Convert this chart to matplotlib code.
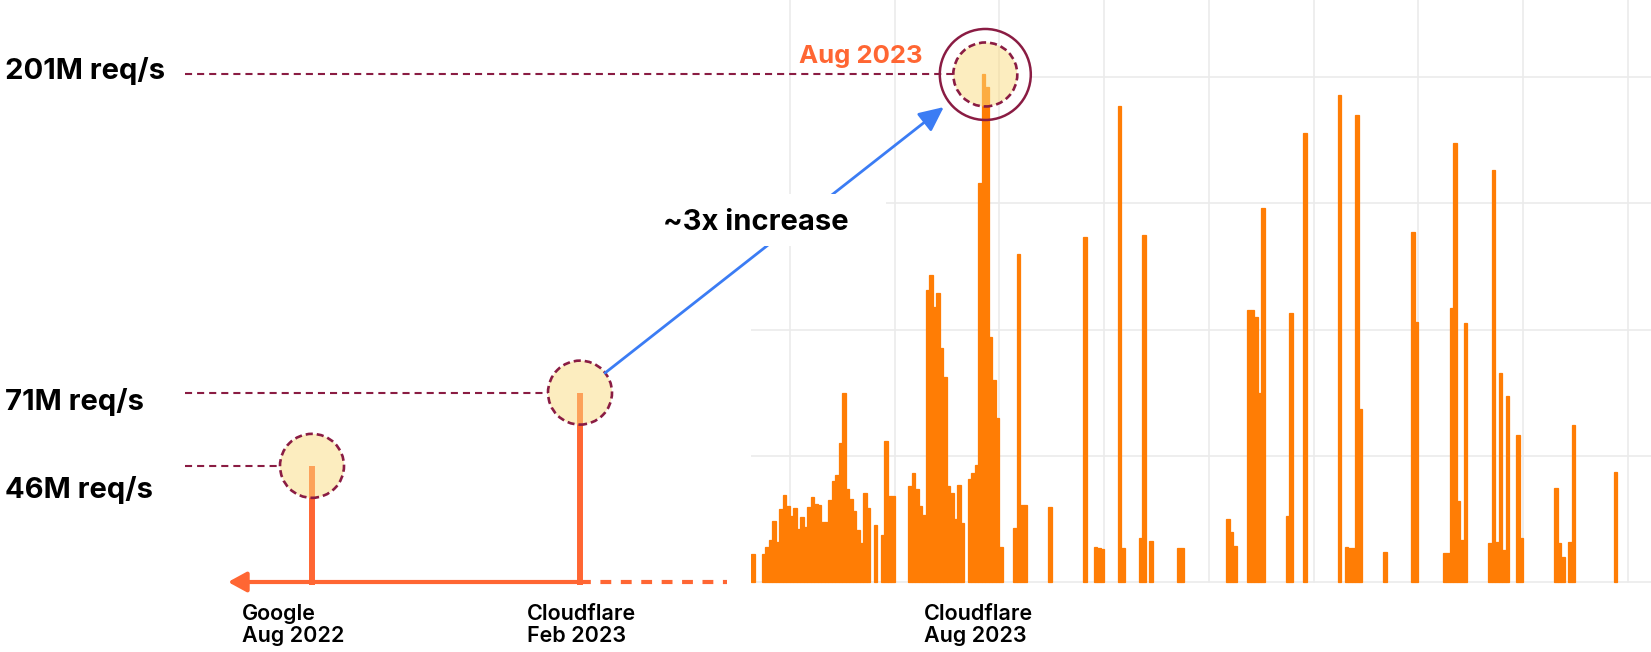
import numpy as np
import matplotlib.pyplot as plt
from matplotlib.patches import Ellipse, Rectangle
from matplotlib.colors import to_rgba

# hourly peak request rate of the Aug 2023 attack campaign (M req/s)
hours = [19, 22, 23, 24, 25, 26, 27, 28, 29, 30, 31, 32, 33, 34, 35, 36, 37, 38, 39, 40,
         41, 42, 43, 44, 45, 46, 47, 48, 49, 50, 51, 52, 54, 56, 57, 58, 59,
         64, 65, 66, 67, 68, 69, 70, 71, 72, 73, 74, 75, 76, 77, 78, 79,
         81, 82, 83, 84, 85, 86, 87, 88, 89, 90, 94, 95, 96, 97, 104,
         114, 117, 118, 119, 124, 125, 130, 131, 133, 141, 142,
         155, 156, 157, 161, 162, 163, 164, 165, 172, 173, 177,
         187, 189, 190, 191, 192, 193, 200, 208, 209,
         217, 218, 219, 220, 221, 222, 223, 230, 231, 232, 233, 234, 235,
         238, 239, 249, 250, 251, 253, 254, 266]
rates = [11.1, 11.1, 14.0, 16.5, 24.2, 16.0, 28.8, 34.5, 30.0, 26.2, 29.2, 20.9, 25.9, 21.9, 29.8, 33.8, 31.0, 30.5, 23.9, 23.9,
         32.5, 40.0, 42.4, 54.9, 75.0, 36.7, 33.0, 28.0, 20.6, 15.6, 35.1, 29.2, 22.6, 18.6, 56.0, 34.1, 34.1,
         38.0, 43.3, 37.0, 30.0, 26.5, 115.6, 121.5, 109.0, 114.5, 92.5, 81.3, 38.0, 35.1, 25.0, 38.4, 23.2,
         40.7, 43.0, 46.3, 158.0, 201.0, 196.0, 97.2, 80.0, 64.8, 14.0, 21.4, 130.0, 30.5, 30.5, 29.7,
         136.5, 14.0, 13.5, 13.0, 188.5, 13.5, 17.4, 137.4, 16.3, 13.3, 13.5,
         24.8, 20.0, 14.2, 107.7, 107.7, 105.0, 75.0, 148.0, 26.0, 106.4, 177.7,
         192.9, 13.8, 13.5, 13.5, 185.0, 68.4, 12.0, 138.7, 103.0,
         11.4, 11.4, 108.4, 174.0, 32.0, 16.6, 102.4, 15.3, 163.2, 16.0, 82.9, 12.7, 73.7,
         58.2, 17.3, 37.1, 15.6, 10.0, 16.0, 62.2, 43.7]

# earlier records, stem heights as drawn (M req/s)
prior_peaks = [46, 75]
prior_x = [312, 580]
record_labels = ['201M req/s', '71M req/s', '46M req/s']
event_labels = ['Google\nAug 2022', 'Cloudflare\nFeb 2023', 'Cloudflare\nAug 2023']

W, H = 1651, 652
BASE_PX = 582
PX_PER_M = 2.525
SLOT_PX = 104.75 / 30

BAR = '#ff7d05'
STEM = '#ff6633'
MAROON = '#8a1c43'
BLUE = '#3b7cf4'
FILL = '#fbdc80'
GRID = '#ebebeb'


def m(ypx):
    # pixel row -> M req/s on the shared vertical scale
    return (BASE_PX - ypx) / PX_PER_M


def main():
    plt.rcParams['font.family'] = ['Inter', 'DejaVu Sans']
    fig = plt.figure(figsize=(W / 100, H / 100), dpi=100)
    ylim = (m(H), m(0))

    # bar chart on the right
    axb = fig.add_axes([751 / W, 0, 900 / W, 1])
    axb.set_xlim(18.9, 18.9 + 900 / SLOT_PX)
    axb.set_ylim(*ylim)
    axb.axis('off')
    for x in range(30, 271, 30):
        axb.plot([x, x], [0, ylim[1]], color=GRID, lw=1.2, zorder=0)
    for lvl in [0, 50, 100, 150]:
        axb.axhline(lvl, color=GRID, lw=1.2, zorder=0)
    axb.axhline(200, xmin=(1031 - 751) / 900, color=GRID, lw=1.2, zorder=0)
    axb.bar(hours, rates, width=1, align='edge', color=BAR, edgecolor=BAR, lw=0.9, zorder=2)

    # overlay for the annotations
    ax = fig.add_axes([0, 0, 1, 1])
    ax.set_xlim(0, W)
    ax.set_ylim(*ylim)
    ax.axis('off')
    ax.patch.set_alpha(0)

    peak = int(np.argmax(rates))
    aug = ax.transData.inverted().transform(
        axb.transData.transform((hours[peak] + 1, rates[peak])))
    rh = 1 / PX_PER_M

    # timeline with stems
    ax.annotate('', xy=(228, 0), xytext=(prior_x[1], 0),
                arrowprops=dict(arrowstyle='-|>,head_length=0.55,head_width=0.3',
                                color=STEM, lw=3, mutation_scale=20, shrinkA=0, shrinkB=0))
    ax.plot([prior_x[1], 727], [0, 0], color=STEM, lw=3, dashes=(2.6, 2.3))
    for x, v in zip(prior_x, prior_peaks):
        ax.plot([x, x], [-1, v], color=STEM, lw=4.3, solid_capstyle='butt', zorder=3)

    # dashed level guides
    ax.plot([185, prior_x[0] - 32], [prior_peaks[0]] * 2, color=MAROON, lw=1.5, dashes=(3.4, 2.4))
    ax.plot([185, prior_x[1] - 32], [prior_peaks[1]] * 2, color=MAROON, lw=1.5, dashes=(3.4, 2.4))
    ax.plot([185, aug[0] - 32], [aug[1]] * 2, color=MAROON, lw=1.5, dashes=(3.4, 2.4))

    # highlight circles
    for x, v in zip(prior_x, prior_peaks):
        ax.add_patch(Ellipse((x, v), 64, 64 * rh, facecolor=to_rgba(FILL, 0.5),
                             edgecolor=MAROON, lw=1.9, ls=(0, (2.7, 1.5)), zorder=4))
    ax.add_patch(Ellipse(aug, 64, 64 * rh, facecolor=to_rgba(FILL, 0.5),
                         edgecolor=MAROON, lw=1.9, ls=(0, (2.7, 1.5)), zorder=4))
    ax.add_patch(Ellipse(aug, 91, 91 * rh, facecolor='none', edgecolor=MAROON, lw=1.8, zorder=4))

    # ~3x arrow behind a white label box
    ax.annotate('', xy=aug, xytext=(prior_x[1], prior_peaks[1]),
                arrowprops=dict(arrowstyle='-|>,head_length=0.75,head_width=0.35',
                                color=BLUE, lw=2, mutation_scale=20, shrinkA=23, shrinkB=38),
                zorder=4)
    ax.add_patch(Rectangle((640, m(246)), 246, 52 * rh, facecolor='white', edgecolor='none', zorder=5))
    ax.text(663, m(230), '~3x increase', fontsize=21, weight='bold', va='baseline', zorder=6)

    ax.text(861, m(63), 'Aug 2023', fontsize=18.5, weight='bold', color=STEM, ha='center', va='baseline')

    # left value labels
    for lbl, yb in zip(record_labels, [79, 410, 498]):
        ax.text(5, m(yb), lbl, fontsize=21, weight='bold', va='baseline')

    # event labels under the timeline
    for lbl, x in zip(event_labels, [242, 527, 924]):
        ax.text(x, m(604), lbl, fontsize=15.5, weight='semibold', va='top', linespacing=1.1)

    fig.savefig('out.png', dpi=100)


if __name__ == '__main__':
    main()
